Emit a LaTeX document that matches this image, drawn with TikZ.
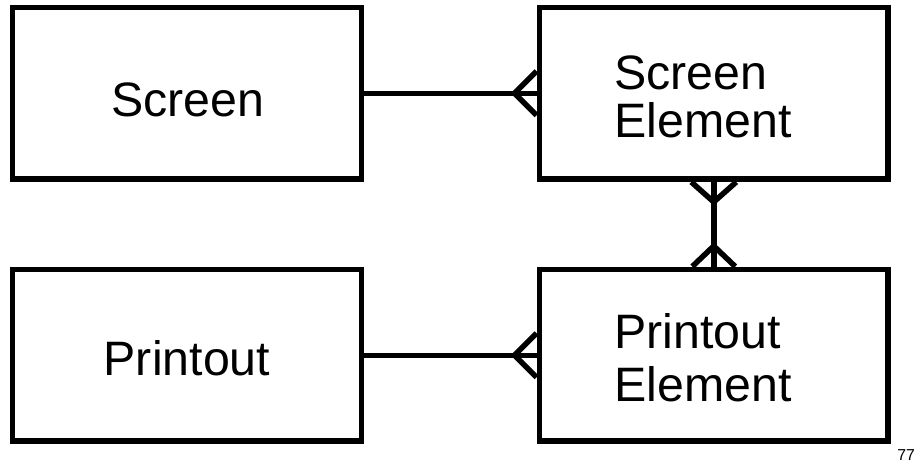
\documentclass[tikz,border=0pt]{standalone}
\usepackage{fontspec}
\setmainfont{Liberation Sans}
\usetikzlibrary{positioning}

\begin{document}
\begin{tikzpicture}[
    x=0.02cm, y=-0.02cm,
    entity/.style={rectangle, draw=black, line width=0.11cm, minimum width=6.98cm, minimum height=3.44cm, inner sep=0pt},
    link/.style={black, line width=0.11cm},
    txt/.style={inner sep=0pt, font=\fontsize{27.5}{27.3}\selectfont, align=left}
]
    \useasboundingbox (0,0) rectangle (915,460);

    % Entities
    \node[entity] (screen) at (187,93.25) {};
    \node[entity] (scrnel) at (713.75,93.25) {};
    \node[entity] (print) at (187,355.25) {};
    \node[entity] (prntel) at (713.75,355.25) {};

    % Entity names (base = last line)
    \node[txt, anchor=base] (scrtxt) at (188,116) {Screen};
    \node[txt, anchor=base west] (scrneltxt) at (614,137) {Screen\\Element};
    \node[txt, anchor=base] (printtxt) at (187,375) {Printout};
    \node[txt, anchor=base west] (prnteltxt) at (614,401) {Printout\\[0.1cm]Element};
    \node[anchor=base west, inner sep=0pt, font=\fontsize{9}{10}\selectfont] (pgnum) at (897,460.5) {77};

    % Relationships
    \draw[link] (screen) -- (scrnel);
    \draw[link] (print) -- (prntel);
    \draw[link] (scrnel) -- (prntel);

    % Crow's feet (many ends)
    \draw[link] ([yshift=0.44cm]scrnel.west) -- ([xshift=-0.44cm]scrnel.west) -- ([yshift=-0.44cm]scrnel.west);
    \draw[link] ([yshift=0.44cm]prntel.west) -- ([xshift=-0.44cm]prntel.west) -- ([yshift=-0.44cm]prntel.west);
    \draw[link] ([xshift=-0.45cm]scrnel.south) -- ([yshift=-0.4cm]scrnel.south) -- ([xshift=0.45cm]scrnel.south);
    \draw[link] ([xshift=-0.43cm]prntel.north) -- ([yshift=0.41cm]prntel.north) -- ([xshift=0.43cm]prntel.north);
\end{tikzpicture}
\end{document}
